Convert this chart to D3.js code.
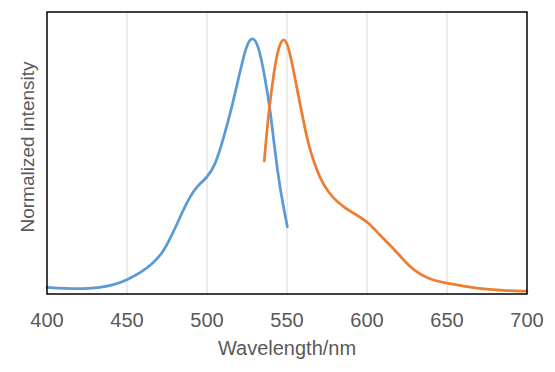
<!DOCTYPE html>
<html>
<head>
<meta charset="utf-8">
<script src="https://cdn.jsdelivr.net/npm/d3@7"></script>
<style>
  body { margin: 0; background: #fff; }
  text { font-family: "Liberation Sans", Arial, sans-serif; fill: #595959; }
</style>
</head>
<body>
<div id="chart"></div>
<script>
let w = 555;
let h = 372;
let margin = {left: 47, right: 28, top: 12, bottom: 78};

// absorption (blue)
let blueNm = [400, 411, 424, 433, 441.5, 450, 458, 466.5, 472.7, 477, 481, 485.2, 489.4, 493.5, 499.8, 505, 510, 515.4, 520.6, 524.8, 528.3, 532, 536, 539.4, 542.5, 545.6, 550.2];
let blueVal = [0.026, 0.022, 0.020, 0.025, 0.035, 0.055, 0.081, 0.120, 0.165, 0.217, 0.269, 0.328, 0.380, 0.419, 0.452, 0.500, 0.600, 0.724, 0.867, 0.975, 1.005, 0.975, 0.854, 0.724, 0.555, 0.412, 0.262];

// emission (orange)
let orangeNm = [535.8, 538.3, 541.5, 544.6, 548, 551, 554, 558, 562.3, 564.4, 568.5, 572.7, 579, 585.2, 593.5, 600.4, 608, 616.5, 621.5, 626.9, 633, 641.5, 650.4, 662.3, 674.8, 687.3, 700];
let orangeVal = [0.519, 0.698, 0.854, 0.965, 1.005, 0.965, 0.874, 0.745, 0.613, 0.562, 0.484, 0.425, 0.373, 0.340, 0.308, 0.282, 0.230, 0.178, 0.142, 0.106, 0.077, 0.052, 0.042, 0.028, 0.018, 0.013, 0.011];

let xTicks = [400, 450, 500, 550, 600, 650, 700];

let svg = d3.select("#chart")
    .append("svg")
    .attr("width", w)
    .attr("height", h);

let x = d3.scaleLinear().domain([400, 700]).range([margin.left, w - margin.right]);
let y = d3.scaleLinear().domain([0, 1.1]).range([h - margin.bottom, margin.top]);

// gridlines
svg.selectAll(".grid").data(xTicks.slice(1, -1)).enter()
    .append("line")
    .attr("class", "grid")
    .attr("x1", d => x(d))
    .attr("x2", d => x(d))
    .attr("y1", y(0))
    .attr("y2", margin.top)
    .attr("stroke", "#d9d9d9")
    .attr("stroke-width", 1);

// lines
let line = d3.line()
    .x(d => x(d[0]))
    .y(d => y(d[1]))
    .curve(d3.curveBasis);

svg.append("path")
    .datum(blueNm.map((d, i) => [d, blueVal[i]]))
    .attr("d", line)
    .attr("fill", "none")
    .attr("stroke", "#5b9bd5")
    .attr("stroke-width", 2.75)
    .attr("stroke-linecap", "round");

svg.append("path")
    .datum(orangeNm.map((d, i) => [d, orangeVal[i]]))
    .attr("d", line)
    .attr("fill", "none")
    .attr("stroke", "#ed7d31")
    .attr("stroke-width", 2.75)
    .attr("stroke-linecap", "round");

// frame
svg.append("rect")
    .attr("x", margin.left)
    .attr("y", margin.top)
    .attr("width", w - margin.left - margin.right)
    .attr("height", h - margin.top - margin.bottom)
    .attr("fill", "none")
    .attr("stroke", "#000")
    .attr("stroke-width", 1.5);

// x axis labels
svg.selectAll(".tick-label").data(xTicks).enter()
    .append("text")
    .attr("class", "tick-label")
    .attr("x", d => x(d))
    .attr("y", 327)
    .attr("text-anchor", "middle")
    .attr("font-size", 20)
    .text(d => d);

svg.append("text")
    .attr("x", (margin.left + w - margin.right) / 2)
    .attr("y", 355)
    .attr("text-anchor", "middle")
    .attr("font-size", 20)
    .text("Wavelength/nm");

svg.append("text")
    .attr("transform", "translate(34," + 147 + ") rotate(-90)")
    .attr("text-anchor", "middle")
    .attr("font-size", 19)
    .text("Normalized intensity");
</script>
</body>
</html>
